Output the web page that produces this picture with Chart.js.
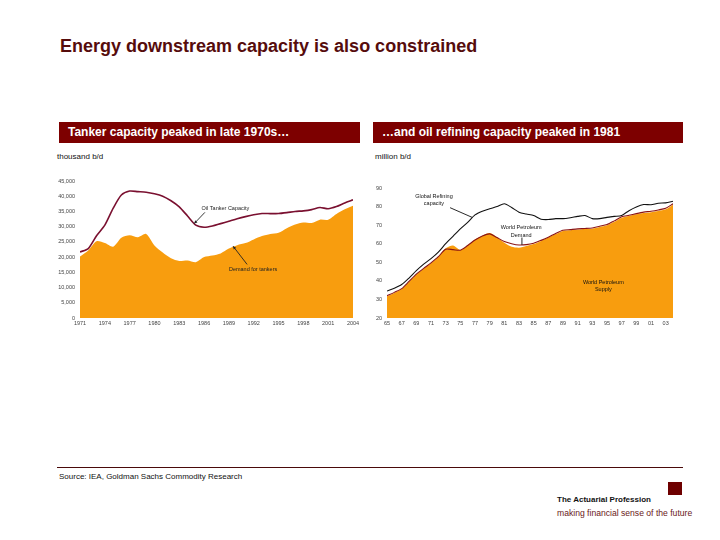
<!DOCTYPE html>
<html><head><meta charset="utf-8">
<script src="https://cdn.jsdelivr.net/npm/chart.js@4.4.1/dist/chart.umd.min.js"></script>
<style>
body{margin:0;width:720px;height:540px;background:#fff;position:relative;font-family:"Liberation Sans",Arial,sans-serif;overflow:hidden}
.abs{position:absolute;white-space:nowrap}
#title{left:60px;top:36px;font-size:18px;font-weight:bold;color:#560c0c}
.bar{top:122px;height:21px;background:#7d0000;color:#fff;font-weight:bold;font-size:12px;line-height:21px;padding-left:9px;box-sizing:border-box}
.unit{top:152px;font-size:8px;color:#111}
#rule{left:57px;top:467px;width:626px;height:1px;background:#4a0a0a}
#source{left:59px;top:472px;font-size:8px;color:#111}
#logoSq{left:668px;top:482px;width:14px;height:13px;background:#6e0000}
#logo1{left:557px;top:495px;font-size:8px;font-weight:bold;color:#111}
#logo2{left:557px;top:508px;font-size:8.6px;color:#6a2020}
.cv{position:absolute}
</style></head>
<body>
<div class="abs" id="title">Energy downstream capacity is also constrained</div>
<div class="abs bar" style="left:59px;width:301px">Tanker capacity peaked in late 1970s…</div>
<div class="abs bar" style="left:373px;width:310px">…and oil refining capacity peaked in 1981</div>
<div class="abs unit" style="left:57px">thousand b/d</div>
<div class="abs unit" style="left:375px">million b/d</div>
<canvas id="c1" class="cv" width="330" height="170" style="left:40px;top:170px"></canvas>
<canvas id="c2" class="cv" width="330" height="170" style="left:360px;top:170px"></canvas>
<div class="abs" id="rule"></div>
<div class="abs" id="source">Source: IEA, Goldman Sachs Commodity Research</div>
<div class="abs" id="logoSq"></div>
<div class="abs" id="logo1">The Actuarial Profession</div>
<div class="abs" id="logo2">making financial sense of the future</div>
<script>
// ---------- Left chart data (thousand b/d) ----------
const tankerYears = [1971,1972,1973,1974,1975,1976,1977,1978,1979,1980,1981,1982,1983,1984,1985,1986,1987,1988,1989,1990,1991,1992,1993,1994,1995,1996,1997,1998,1999,2000,2001,2002,2003,2004];
const tankerCapacity = [21700,22800,27000,30500,36000,40400,41700,41500,41300,40800,40000,38500,36500,33500,30500,29800,30200,31000,31800,32600,33300,33900,34300,34300,34300,34600,35000,35200,35600,36300,35900,36600,37800,38800];
const tankerDemand = [20200,22200,25200,24600,23400,26400,27200,26500,27600,23800,21500,19600,18700,18900,18300,20000,20500,21200,22800,23900,24600,25800,26900,27600,28000,29500,30700,31400,31200,32300,32300,34200,35700,36900];
const leftTickYears = [1971,1974,1977,1980,1983,1986,1989,1992,1995,1998,2001,2004];
const leftYTicks = [0,5000,10000,15000,20000,25000,30000,35000,40000,45000];

// ---------- Right chart data (million b/d) ----------
const refYears = [1965,1966,1967,1968,1969,1970,1971,1972,1973,1974,1975,1976,1977,1978,1979,1980,1981,1982,1983,1984,1985,1986,1987,1988,1989,1990,1991,1992,1993,1994,1995,1996,1997,1998,1999,2000,2001,2002,2003,2004];
const refCapacity = [34.5,36,38,41.5,45.5,49,52,55.5,60,64,68,71.5,75.5,77.5,78.8,80,81.5,79.5,77,76,75.2,73.2,73,73.5,73.5,74,74.7,75.2,73.5,73.5,74.2,74.7,75.2,77.8,79.8,81.1,81,81.8,82,82.9];
const refSupply = [31.7,33.5,35.6,39.5,43.5,46.5,49.5,53,57.5,59,56.6,59,62.3,64.3,65.8,63.5,60.5,58.3,57.8,58.8,59.8,61.5,63.3,65.2,66.9,67.2,67.6,67.9,68.1,69,69.9,71.8,74,74.9,75.8,76.5,77,77.6,78.5,81];
const refDemand = [32,33.8,35.8,39.7,43.6,46.7,49.7,53,57,56.8,56.5,59,62,64.2,65.3,63.3,61.2,60,59.3,59.5,60.3,61.8,63.5,65.5,67.2,67.6,68,68.2,68.5,69.4,70.3,72.3,74.5,75.3,76.2,77,77.5,78.2,79.1,81.5];
const rightTickYears = [1965,1967,1969,1971,1973,1975,1977,1979,1981,1983,1985,1987,1989,1991,1993,1995,1997,1999,2001,2003];
const rightYTicks = [20,30,40,50,60,70,80,90];

const ORANGE = '#f89d0e';
const pts = (xs, ys) => xs.map((x,i)=>({x, y: ys[i]}));

const annot = {
  id: 'annot',
  afterDatasetsDraw(chart, args, opts) {
    const {ctx} = chart; const x = chart.scales.x, y = chart.scales.y;
    ctx.save();
    ctx.font = (opts.size||5.5) + 'px "Liberation Sans", Arial, sans-serif';
    ctx.fillStyle = opts.color || '#222';
    ctx.textBaseline = 'middle';
    (opts.texts||[]).forEach(t => {
      ctx.textAlign = t.align || 'center';
      ctx.fillText(t.text, x.getPixelForValue(t.x), y.getPixelForValue(t.y));
    });
    ctx.strokeStyle = opts.color || '#222'; ctx.lineWidth = 0.9;
    (opts.lines||[]).forEach(l => {
      const x1 = x.getPixelForValue(l.x1), y1 = y.getPixelForValue(l.y1);
      const x2 = x.getPixelForValue(l.x2), y2 = y.getPixelForValue(l.y2);
      ctx.beginPath(); ctx.moveTo(x1,y1); ctx.lineTo(x2,y2); ctx.stroke();
      if (l.arrow) {
        const a = Math.atan2(y2-y1, x2-x1), h = 3.5;
        ctx.beginPath(); ctx.moveTo(x2,y2);
        ctx.lineTo(x2 - h*Math.cos(a-0.45), y2 - h*Math.sin(a-0.45));
        ctx.lineTo(x2 - h*Math.cos(a+0.45), y2 - h*Math.sin(a+0.45));
        ctx.closePath(); ctx.fillStyle = opts.color || '#222'; ctx.fill();
      }
    });
    ctx.restore();
  }
};

function baseOptions(xTicks, yTicks, xmin, xmax, ymin, ymax, yW, fmtX, fmtY, pad) {
  return {
    responsive: false, animation: false,
    layout: {padding: pad},
    plugins: {legend: {display: false}, tooltip: {enabled: false}},
    elements: {point: {radius: 0}, line: {tension: 0.25}},
    scales: {
      x: {type: 'linear', min: xmin, max: xmax,
          afterBuildTicks: s => { s.ticks = xTicks.map(v => ({value: v})); },
          afterFit: s => { s.height = 22; },
          grid: {display: false, drawTicks: false}, border: {display: false},
          ticks: {autoSkip: false, maxRotation: 0, padding: 2, color: '#444',
                  font: {size: 5.5, family: '"Liberation Sans", Arial'}, callback: fmtX}},
      y: {type: 'linear', min: ymin, max: ymax,
          afterBuildTicks: s => { s.ticks = yTicks.map(v => ({value: v})); },
          afterFit: s => { s.width = yW; },
          grid: {display: false, drawTicks: false}, border: {display: false},
          ticks: {padding: 5, color: '#444',
                  font: {size: 5.5, family: '"Liberation Sans", Arial'}, callback: fmtY}}
    }
  };
}

// Left chart
const o1 = baseOptions(leftTickYears, leftYTicks, 1971, 2004, 0, 45000, 40,
  v => String(v), v => v.toLocaleString('en-US'), {top: 11, right: 17, left: 0, bottom: 0});
o1.plugins.annot = {
  size: 5.5, color: '#222',
  texts: [
    {text: 'Oil Tanker Capacity', x: 1985.7, y: 35900, align: 'left'},
    {text: 'Demand for tankers', x: 1989.0, y: 15900, align: 'left'}
  ],
  lines: [
    {x1: 1986.1, y1: 34700, x2: 1984.8, y2: 31000, arrow: true},
    {x1: 1991.2, y1: 17600, x2: 1989.5, y2: 23600, arrow: true}
  ]
};
new Chart(document.getElementById('c1'), {
  type: 'line',
  data: {datasets: [
    {label: 'Oil Tanker Capacity', data: pts(tankerYears, tankerCapacity), borderColor: '#7a1030', borderWidth: 1.6, fill: false},
    {label: 'Demand for tankers', data: pts(tankerYears, tankerDemand), borderColor: ORANGE, borderWidth: 0, backgroundColor: ORANGE, fill: 'origin'}
  ]},
  options: o1,
  plugins: [annot]
});

// Right chart
const o2 = baseOptions(rightTickYears, rightYTicks, 1965, 2004, 20, 90, 27,
  v => String(v).slice(2), v => String(v), {top: 18, right: 17, left: 0, bottom: 0});
o2.plugins.annot = {
  size: 5.5, color: '#111',
  texts: [
    {text: 'Global Refining', x: 1971.4, y: 85.3},
    {text: 'capacity', x: 1971.4, y: 81.5},
    {text: 'World Petroleum', x: 1983.3, y: 68.8},
    {text: 'Demand', x: 1983.3, y: 64.6},
    {text: 'World Petroleum', x: 1994.5, y: 39.1},
    {text: 'Supply', x: 1994.5, y: 35.3}
  ],
  lines: [
    {x1: 1973.6, y1: 79.4, x2: 1976.6, y2: 74.2},
    {x1: 1983.4, y1: 63.3, x2: 1983.4, y2: 59.4}
  ]
};
new Chart(document.getElementById('c2'), {
  type: 'line',
  data: {datasets: [
    {label: 'Global Refining Capacity', data: pts(refYears, refCapacity), borderColor: '#111', borderWidth: 1.1, fill: false},
    {label: 'World Petroleum Demand', data: pts(refYears, refDemand), borderColor: '#8a1414', borderWidth: 1.1, fill: false},
    {label: 'World Petroleum Supply', data: pts(refYears, refSupply), borderColor: ORANGE, borderWidth: 0, backgroundColor: ORANGE, fill: 'start'}
  ]},
  options: o2,
  plugins: [annot]
});
</script>
</body></html>
